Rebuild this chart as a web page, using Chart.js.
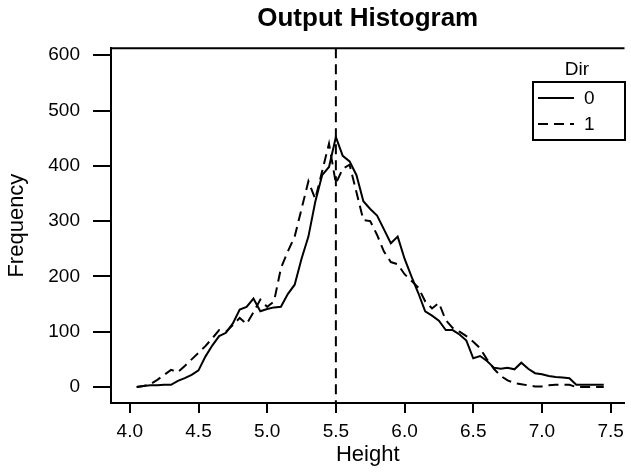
<!DOCTYPE html>
<html>
<head>
<meta charset="utf-8">
<script src="https://cdn.jsdelivr.net/npm/chart.js@4"></script>
<style>
html,body{margin:0;padding:0;background:#fff;}
#wrap{width:631px;height:472px;}
</style>
</head>
<body>
<div id="wrap"><canvas id="c" width="631" height="472"></canvas></div>
<script>
const heights = [4.05,4.10,4.15,4.20,4.25,4.30,4.35,4.40,4.45,4.50,4.55,4.60,4.65,4.70,4.75,4.80,4.85,4.90,4.95,5.00,
  5.05,5.10,5.15,5.20,5.25,5.30,5.35,5.40,5.45,5.50,5.55,5.60,5.65,5.70,5.75,5.80,5.85,5.90,5.95,6.00,
  6.05,6.10,6.15,6.20,6.25,6.30,6.35,6.40,6.45,6.50,6.55,6.60,6.65,6.70,6.75,6.80,6.85,6.90,6.95,7.00,
  7.05,7.10,7.15,7.20,7.25,7.30,7.35,7.40,7.45];
const dir0 = [0,2,3,3,4,4,11,16,22,30,55,75,92,98,115,140,145,160,137,141,
  144,145,168,185,232,272,335,383,398,452,418,408,383,336,322,310,285,260,272,232,
  200,170,137,129,120,103,103,95,84,52,56,47,35,33,35,32,44,33,25,23,
  20,18,17,16,4,4,4,4,4];
const dir1 = [0,2,5,13,22,31,27,38,50,62,74,88,103,100,112,125,114,135,158,145,
  155,215,245,272,322,372,340,390,440,368,395,402,352,302,300,275,245,226,222,204,
  192,180,155,142,152,121,107,100,92,82,70,50,33,20,12,7,5,3,1,1,
  3,4,4,4,0,0,0,0,0];
const xTicks = [4.0,4.5,5.0,5.5,6.0,6.5,7.0,7.5];
const yTicks = [0,100,200,300,400,500,600];
const refLine = 5.5;
const seriesNames = ['0','1'];
const legendTitle = 'Dir';

const FONT = "'Liberation Sans', Arial, Helvetica, sans-serif";

const extras = {
  id: 'extras',
  afterDatasetsDraw(chart) {
    const {ctx, chartArea: a, scales: {x}} = chart;
    ctx.save();
    ctx.strokeStyle = '#000';
    ctx.lineWidth = 2;
    // top frame
    ctx.beginPath();
    ctx.moveTo(a.left - 1, a.top);
    ctx.lineTo(a.right, a.top);
    ctx.stroke();
    // reference line
    const px = x.getPixelForValue(refLine);
    ctx.setLineDash([10, 6]);
    ctx.beginPath();
    ctx.moveTo(px, a.top);
    ctx.lineTo(px, a.bottom);
    ctx.stroke();
    ctx.setLineDash([]);
    // legend
    const bx = 533, by = 82, bw = 92, bh = 58;
    ctx.fillStyle = '#000';
    ctx.font = '19px ' + FONT;
    ctx.textAlign = 'center';
    ctx.textBaseline = 'middle';
    ctx.fillText(legendTitle, bx + bw / 2 - 2, 70);
    ctx.fillStyle = '#fff';
    ctx.fillRect(bx, by, bw, bh);
    ctx.strokeRect(bx, by, bw, bh);
    ctx.fillStyle = '#000';
    const rows = [[98, []], [124, [10, 6]]];
    rows.forEach(([yy, dash], i) => {
      ctx.setLineDash(dash);
      ctx.beginPath();
      ctx.moveTo(538, yy);
      ctx.lineTo(574, yy);
      ctx.stroke();
      ctx.setLineDash([]);
      ctx.textAlign = 'left';
      ctx.fillText(seriesNames[i], 584, yy + 1);
    });
    ctx.restore();
  }
};

new Chart(document.getElementById('c'), {
  type: 'line',
  data: {
    datasets: [
      {label: seriesNames[0], data: heights.map((h, i) => ({x: h, y: dir0[i]})),
       borderColor: '#000', borderWidth: 2, pointRadius: 0, tension: 0, fill: false},
      {label: seriesNames[1], data: heights.map((h, i) => ({x: h, y: dir1[i]})),
       borderColor: '#000', borderWidth: 2, borderDash: [10, 6], pointRadius: 0, tension: 0, fill: false}
    ]
  },
  options: {
    responsive: false,
    animation: false,
    devicePixelRatio: 1,
    layout: {padding: {left: 0, right: 1, top: 0, bottom: 0}},
    plugins: {
      legend: {display: false},
      tooltip: {enabled: false},
      title: {display: true, fullSize: false, text: 'Output Histogram', color: '#000',
              font: {family: FONT, size: 26, weight: 'bold'}, padding: {top: 3, bottom: 14}}
    },
    scales: {
      x: {
        type: 'linear', min: 3.863, max: 7.601,
        afterBuildTicks: s => { s.ticks = xTicks.map(v => ({value: v})); },
        afterFit: s => { s.height = 69; },
        ticks: {color: '#000', font: {family: FONT, size: 19}, padding: 7,
                callback: v => Number(v).toFixed(1), maxRotation: 0, autoSkip: false},
        grid: {drawOnChartArea: false, drawTicks: true, tickLength: 10, color: '#000', lineWidth: 2},
        border: {display: true, color: '#000', width: 2},
        title: {display: true, text: 'Height', color: '#000', font: {family: FONT, size: 22}, padding: {top: 0, bottom: 4}}
      },
      y: {
        type: 'linear', min: -28.9, max: 612.7,
        afterBuildTicks: s => { s.ticks = yTicks.map(v => ({value: v})); },
        afterFit: s => { s.width = 111; },
        ticks: {color: '#000', font: {family: FONT, size: 19}, padding: 13, autoSkip: false},
        grid: {drawOnChartArea: false, drawTicks: true, tickLength: 18, color: '#000', lineWidth: 2},
        border: {display: true, color: '#000', width: 2},
        title: {display: true, text: 'Frequency', color: '#000', font: {family: FONT, size: 22}, padding: {top: 4, bottom: 0}}
      }
    }
  },
  plugins: [extras]
});
</script>
</body>
</html>
